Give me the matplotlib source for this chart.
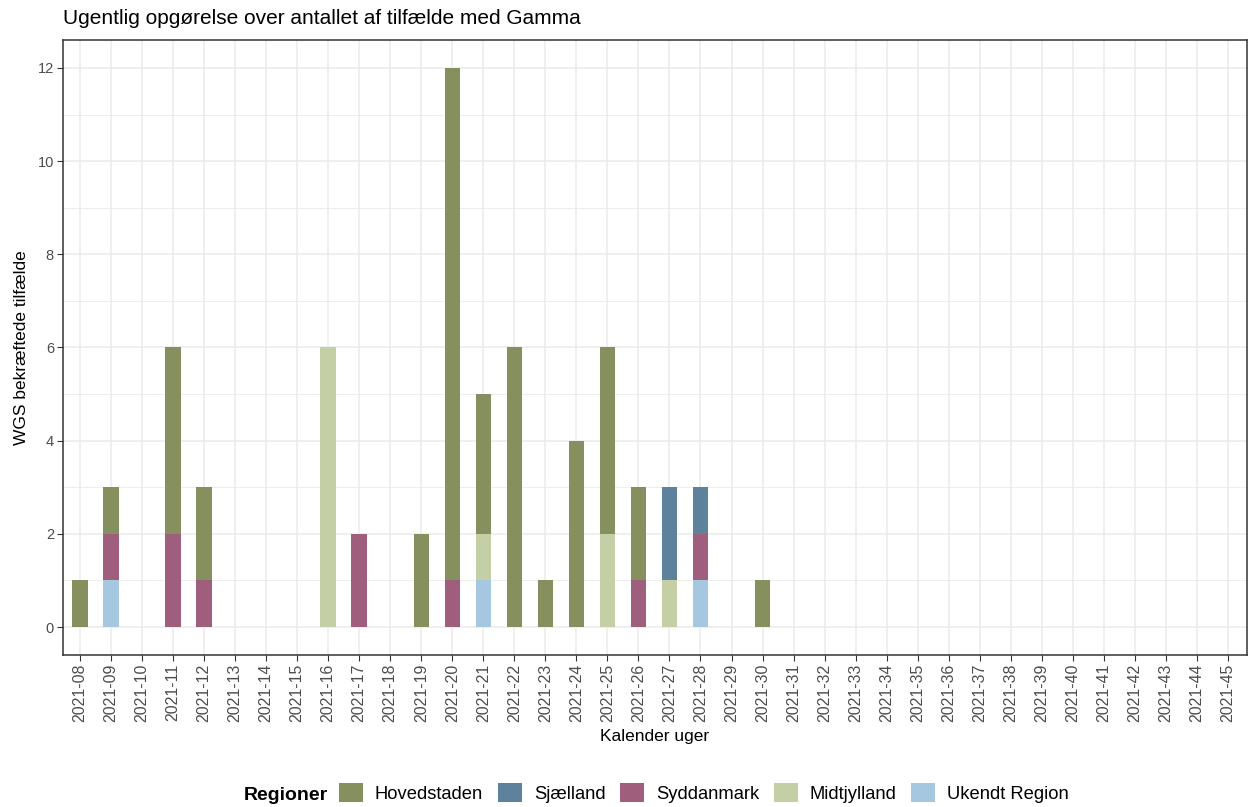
import matplotlib
matplotlib.use("Agg")
import matplotlib.pyplot as plt
import numpy as np
from matplotlib.patches import Patch
from matplotlib.ticker import MultipleLocator

plt.rcParams['font.family'] = ['Liberation Sans', 'DejaVu Sans']

weeks = [f"2021-{w:02d}" for w in range(8, 46)]

regions = ["Hovedstaden", "Sjælland", "Syddanmark", "Midtjylland", "Ukendt Region"]
colors = ["#868F5E", "#5E829B", "#9E5E7C", "#C5CFA6", "#A5C8E0"]

# counts per week (weeks 08..45)
hovedstaden = {"2021-08": 1, "2021-09": 1, "2021-11": 4, "2021-12": 2, "2021-19": 2,
               "2021-20": 11, "2021-21": 3, "2021-22": 6, "2021-23": 1, "2021-24": 4,
               "2021-25": 4, "2021-26": 2, "2021-30": 1}
sjaelland = {"2021-27": 2, "2021-28": 1}
syddanmark = {"2021-09": 1, "2021-11": 2, "2021-12": 1, "2021-17": 2, "2021-20": 1,
              "2021-26": 1, "2021-28": 1}
midtjylland = {"2021-16": 6, "2021-21": 1, "2021-25": 2, "2021-27": 1}
ukendt = {"2021-09": 1, "2021-21": 1, "2021-28": 1}

series = [hovedstaden, sjaelland, syddanmark, midtjylland, ukendt]

fig = plt.figure(figsize=(12.49, 8.07), dpi=100)
ax = fig.add_axes([0.0504, 0.1884, 0.9476, 0.762])

x = np.arange(len(weeks))
# stack from bottom: Ukendt, Midtjylland, Syddanmark, Sjælland, Hovedstaden
bottom = np.zeros(len(weeks))
for name, col, data in reversed(list(zip(regions, colors, series))):
    vals = np.array([data.get(w, 0) for w in weeks], dtype=float)
    ax.bar(x, vals, width=0.5, bottom=bottom, color=col, edgecolor='none', zorder=3)
    bottom += vals

ax.set_xlim(-0.55, len(weeks) - 1 + 0.6)
ax.set_ylim(-0.6, 12.6)
ax.set_xticks(x)
ax.set_xticklabels(weeks, rotation=90)
ax.yaxis.set_major_locator(MultipleLocator(2))
ax.yaxis.set_minor_locator(MultipleLocator(1))
ax.tick_params(axis='y', which='minor', length=0)
ax.tick_params(axis='both', which='major', length=4, color='#333333', width=0.8,
               labelcolor='#4D4D4D', pad=2.5)
ax.tick_params(axis='y', which='major', labelsize=10.5)
ax.tick_params(axis='x', which='major', labelsize=11.4)
ax.grid(True, which='major', color='#EBEBEB', linewidth=1.1, zorder=0)
ax.grid(True, which='minor', axis='y', color='#EBEBEB', linewidth=0.6, zorder=0)
ax.set_axisbelow(True)
for s in ax.spines.values():
    s.set_color('#333333')
    s.set_linewidth(1.1)

ax.set_xlabel("Kalender uger", fontsize=12.5, labelpad=5)
ax.set_ylabel("WGS bekræftede tilfælde", fontsize=12.5, labelpad=6)
fig.text(63 / 1249, 1 - 18 / 807, "Ugentlig opgørelse over antallet af tilfælde med Gamma",
         fontsize=15, ha='left', va='center')

handles = [Patch(facecolor=c, edgecolor='none') for c in colors]
fig.text(244 / 1249, 1 - 795 / 807, "Regioner", fontsize=14, fontweight='bold', ha='left', va='center')
leg = fig.legend(handles, regions, loc='center left', bbox_to_anchor=(339 / 1249, 1 - 793 / 807),
                 ncol=5, frameon=False, fontsize=13.2, handlelength=1.31, handleheight=1.25,
                 handletextpad=0.65, columnspacing=0.8, borderaxespad=0, borderpad=0)

fig.savefig("out.png", dpi=100)
